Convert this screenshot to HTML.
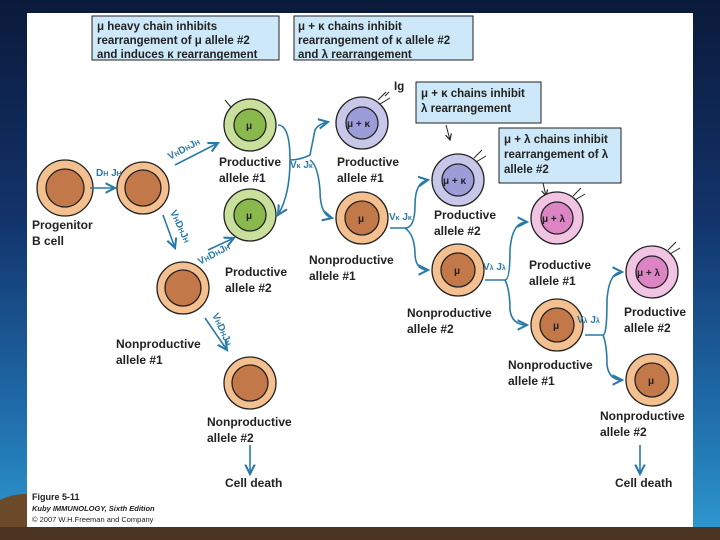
<!DOCTYPE html>
<html><head><meta charset="utf-8"><style>
html,body{margin:0;padding:0;width:720px;height:540px;overflow:hidden}
body{background:linear-gradient(#0a1a3a 0%,#12336a 40%,#1e6aa8 75%,#2f9ad0 100%);position:relative}
svg{position:absolute;left:0;top:0}
text{font-family:"Liberation Sans",sans-serif;font-weight:bold;font-size:12px;fill:#222}
.s{font-size:11.5px}
.l{fill:#2a7aa8;font-size:10px;font-weight:bold}
</style></head><body>
<svg width="720" height="540" viewBox="0 0 720 540">
<defs><marker id="a" markerWidth="8" markerHeight="8" refX="6" refY="4" orient="auto"><path d="M0,1 L6,4 L0,7" fill="none" stroke="#2a7aa8" stroke-width="1.3"/></marker>
<marker id="k" markerWidth="8" markerHeight="8" refX="6" refY="4" orient="auto"><path d="M0,1 L6,4 L0,7" fill="none" stroke="#222" stroke-width="1.2"/></marker></defs>
<path d="M0,500 Q40,480 90,527 L0,540Z" fill="#6b4a2a"/>
<rect x="0" y="527" width="720" height="13" fill="#4a3320"/>
<rect x="27" y="13" width="666" height="514" fill="#fff"/>
<g stroke="#222" stroke-width="1" fill="#cde8f8">
<rect x="92" y="16" width="187" height="44"/><rect x="294" y="16" width="179" height="44"/>
<rect x="416" y="82" width="125" height="41"/><rect x="499" y="128" width="122" height="55"/></g>
<text class="s" x="97" y="30">μ heavy chain inhibits</text>
<text class="s" x="97" y="44">rearrangement of μ allele #2</text>
<text class="s" x="97" y="58">and induces κ rearrangement</text>
<text class="s" x="298" y="30">μ + κ chains inhibit</text>
<text class="s" x="298" y="44">rearrangement of κ allele #2</text>
<text class="s" x="298" y="58">and λ rearrangement</text>
<text class="s" x="421" y="97">μ + κ chains inhibit</text>
<text class="s" x="421" y="112">λ rearrangement</text>
<text class="s" x="504" y="143">μ + λ chains inhibit</text>
<text class="s" x="504" y="158">rearrangement of λ</text>
<text class="s" x="504" y="173">allele #2</text>
<text x="394" y="90" class="s">Ig</text>
<g stroke="#222" stroke-width="1" fill="none" marker-end="url(#k)">
<path d="M225,100 L235,112"/><path d="M367,102 L360,113"/><path d="M446,125 L450,140"/><path d="M543,183 L546,196"/></g>
<g stroke-width="1.3" stroke="#222">
<g><circle cx="65" cy="188" r="28" fill="#f4c090"/><circle cx="65" cy="188" r="19" fill="#c3784a"/></g>
<g><circle cx="143" cy="188" r="26" fill="#f4c090"/><circle cx="143" cy="188" r="18" fill="#c3784a"/></g>
<g><circle cx="250" cy="125" r="26" fill="#c9df9c"/><circle cx="250" cy="125" r="16" fill="#89b84c"/></g>
<g><circle cx="250" cy="215" r="26" fill="#c9df9c"/><circle cx="250" cy="215" r="16" fill="#89b84c"/></g>
<g><circle cx="362" cy="123" r="26" fill="#c7c7ea"/><circle cx="362" cy="123" r="16" fill="#9c9cd8"/></g>
<g><circle cx="362" cy="218" r="26" fill="#f4c090"/><circle cx="362" cy="218" r="17" fill="#c3784a"/></g>
<g><circle cx="183" cy="288" r="26" fill="#f4c090"/><circle cx="183" cy="288" r="18" fill="#c3784a"/></g>
<g><circle cx="250" cy="383" r="26" fill="#f4c090"/><circle cx="250" cy="383" r="18" fill="#c3784a"/></g>
<g><circle cx="458" cy="180" r="26" fill="#c7c7ea"/><circle cx="458" cy="180" r="16" fill="#9c9cd8"/></g>
<g><circle cx="458" cy="270" r="26" fill="#f4c090"/><circle cx="458" cy="270" r="17" fill="#c3784a"/></g>
<g><circle cx="557" cy="218" r="26" fill="#f2c4e4"/><circle cx="557" cy="218" r="16" fill="#dc84c4"/></g>
<g><circle cx="557" cy="325" r="26" fill="#f4c090"/><circle cx="557" cy="325" r="17" fill="#c3784a"/></g>
<g><circle cx="652" cy="272" r="26" fill="#f2c4e4"/><circle cx="652" cy="272" r="16" fill="#dc84c4"/></g>
<g><circle cx="652" cy="380" r="26" fill="#f4c090"/><circle cx="652" cy="380" r="17" fill="#c3784a"/></g>
</g>
<g font-size="10"><text x="246" y="129" style="font-size:10px">μ</text><text x="246" y="219" style="font-size:10px">μ</text>
<text x="347" y="127" style="font-size:10px">μ + κ</text><text x="358" y="222" style="font-size:10px">μ</text>
<text x="443" y="184" style="font-size:10px">μ + κ</text><text x="454" y="274" style="font-size:10px">μ</text>
<text x="542" y="222" style="font-size:10px">μ + λ</text><text x="553" y="329" style="font-size:10px">μ</text>
<text x="637" y="276" style="font-size:10px">μ + λ</text><text x="648" y="384" style="font-size:10px">μ</text></g>
<g stroke="#222" fill="none" stroke-width="1"><path d="M378,100 l8,-8 M380,104 l10,-6 M385,96 l4,-4"/><path d="M474,158 l8,-8 M476,162 l10,-6"/><path d="M573,196 l8,-8 M575,200 l10,-6"/><path d="M668,250 l8,-8 M670,254 l10,-6"/></g>
<text x="32" y="229">Progenitor</text><text x="32" y="245">B cell</text>
<text x="219" y="166">Productive</text><text x="219" y="182">allele #1</text>
<text x="225" y="276">Productive</text><text x="225" y="292">allele #2</text>
<text x="337" y="166">Productive</text><text x="337" y="182">allele #1</text>
<text x="309" y="264">Nonproductive</text><text x="309" y="280">allele #1</text>
<text x="116" y="348">Nonproductive</text><text x="116" y="364">allele #1</text>
<text x="207" y="426">Nonproductive</text><text x="207" y="442">allele #2</text>
<text x="434" y="219">Productive</text><text x="434" y="235">allele #2</text>
<text x="407" y="317">Nonproductive</text><text x="407" y="333">allele #2</text>
<text x="529" y="269">Productive</text><text x="529" y="285">allele #1</text>
<text x="508" y="369">Nonproductive</text><text x="508" y="385">allele #1</text>
<text x="624" y="316">Productive</text><text x="624" y="332">allele #2</text>
<text x="600" y="420">Nonproductive</text><text x="600" y="436">allele #2</text>
<text x="225" y="487">Cell death</text><text x="615" y="487">Cell death</text>
<text x="32" y="500" style="font-size:9px">Figure 5-11</text>
<text x="32" y="511" style="font-size:7.5px;font-style:italic">Kuby IMMUNOLOGY, Sixth Edition</text>
<text x="32" y="522" style="font-size:7.5px;font-weight:normal">© 2007 W.H.Freeman and Company</text>
<g stroke="#2a7aa8" stroke-width="1.6" fill="none" marker-end="url(#a)">
<path d="M90,188 L115,188"/><path d="M175,165 L218,143"/><path d="M163,215 L175,248"/><path d="M208,250 L234,238"/><path d="M205,318 L227,350"/>
<path d="M250,445 L250,474"/><path d="M640,445 L640,474"/>
<path d="M278,125 Q290,125 290,160 Q290,195 278,215"/>
<path d="M290,160 Q300,160 310,155 L315,130 Q318,124 328,122"/>
<path d="M310,160 Q318,165 320,190 Q320,215 332,218"/>
<path d="M390,228 L405,228 Q415,228 415,205 Q415,182 428,180"/>
<path d="M405,228 Q415,235 415,255 Q416,270 428,270"/>
<path d="M485,280 L505,280 Q510,280 510,250 Q512,222 527,222"/>
<path d="M505,280 Q510,290 510,310 Q512,325 527,325"/>
<path d="M585,335 L603,335 Q607,335 607,300 Q609,272 622,272"/>
<path d="M603,335 Q607,345 607,365 Q609,380 622,380"/>
</g>
<g class="l"><text class="l" x="96" y="176">D<tspan font-size="7">H</tspan> J<tspan font-size="7">H</tspan></text>
<text class="l" x="170" y="160" transform="rotate(-28 170 160)">V<tspan font-size="7">H</tspan>D<tspan font-size="7">H</tspan>J<tspan font-size="7">H</tspan></text>
<text class="l" x="170" y="212" transform="rotate(65 170 212)">V<tspan font-size="7">H</tspan>D<tspan font-size="7">H</tspan>J<tspan font-size="7">H</tspan></text>
<text class="l" x="200" y="265" transform="rotate(-28 200 265)">V<tspan font-size="7">H</tspan>D<tspan font-size="7">H</tspan>J<tspan font-size="7">H</tspan></text>
<text class="l" x="212" y="315" transform="rotate(65 212 315)">V<tspan font-size="7">H</tspan>D<tspan font-size="7">H</tspan>J<tspan font-size="7">H</tspan></text>
<text class="l" x="290" y="168">V<tspan font-size="7">κ</tspan> J<tspan font-size="7">κ</tspan></text>
<text class="l" x="389" y="220">V<tspan font-size="7">κ</tspan> J<tspan font-size="7">κ</tspan></text>
<text class="l" x="483" y="270">V<tspan font-size="7">λ</tspan> J<tspan font-size="7">λ</tspan></text>
<text class="l" x="577" y="323">V<tspan font-size="7">λ</tspan> J<tspan font-size="7">λ</tspan></text></g>
</svg>
</body></html>
